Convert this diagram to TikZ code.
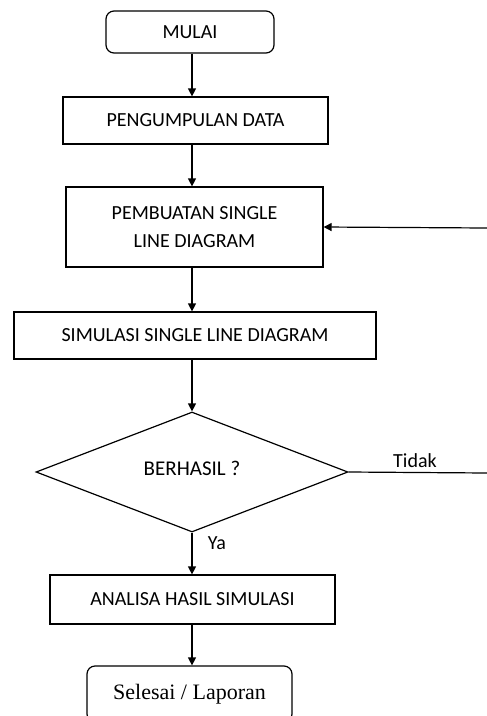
\documentclass[tikz,border=0pt]{standalone}
\usepackage{fontspec}
\setmainfont{Carlito}
\newfontfamily\serifbaru{Liberation Serif}
\usetikzlibrary{shapes.geometric,arrows.meta}

\begin{document}
\begin{tikzpicture}[x = 1pt, y = -1pt,
		kotak/.style = {draw, line width = 1.2pt, inner sep = 0pt, align = center, font = \fontsize{20}{28}\selectfont},
		bulat/.style = {kotak, rounded corners = 8pt},
		panah/.style = {line width = 1.2pt, -{Triangle[width = 8pt, length = 8pt]}},
		garis/.style = {line width = 1.2pt},
		teks/.style = {inner sep = 0pt, font = \fontsize{20}{22}\selectfont}]
	
		\useasboundingbox (0, 0) rectangle (487, 716);
		
		\node[bulat, minimum width = 168pt, minimum height = 42pt] (mulai) at (190, 32) {MULAI};
		\node[kotak, minimum width = 265pt, minimum height = 47pt] (kumpul) at (195.5, 120.5) {PENGUMPULAN DATA};
		\node[kotak, minimum width = 257pt, minimum height = 80pt] (buat) at (194.5, 227) {PEMBUATAN SINGLE\\LINE DIAGRAM};
		\node[kotak, minimum width = 362pt, minimum height = 47pt] (simulasi) at (195, 335.5) {SIMULASI SINGLE LINE DIAGRAM};
		\node[kotak, diamond, shape aspect = 2.6, minimum width = 312pt, minimum height = 120pt, font = \fontsize{21}{24}\selectfont] (cek) at (192, 472) {\raisebox{8pt}{BERHASIL ?}};
		\node[kotak, minimum width = 285pt, minimum height = 49pt] (analisa) at (192.5, 599.5) {ANALISA HASIL SIMULASI};
		\node[bulat, minimum width = 205pt, minimum height = 56pt, font = \serifbaru\fontsize{22}{24}\selectfont] (selesai) at (189.5, 694) {Selesai / Laporan};
		
		\node[teks] (tidak) at (415, 461) {Tidak};
		\node[teks] (ya) at (217, 543) {Ya};
		
		\coordinate (tepi1) at (487, 473);
		\coordinate (tepi2) at (487, 228);
		
		\draw[panah] (mulai.south -| cek) -- (kumpul.north -| cek);
		\draw[panah] (kumpul.south -| cek) -- (buat.north -| cek);
		\draw[panah] (buat.south -| cek) -- (simulasi.north -| cek);
		\draw[panah] (simulasi.south -| cek) -- (cek.north);
		\draw[panah] (cek.south) -- (analisa.north -| cek);
		\draw[panah] (analisa.south -| cek) -- (selesai.north -| cek);
		
		% jalur kembali jika gagal
		\draw[garis] (cek.east) -- (tepi1);
		\draw[panah] (tepi2) -- (buat.east);
	\end{tikzpicture}
\end{document}
